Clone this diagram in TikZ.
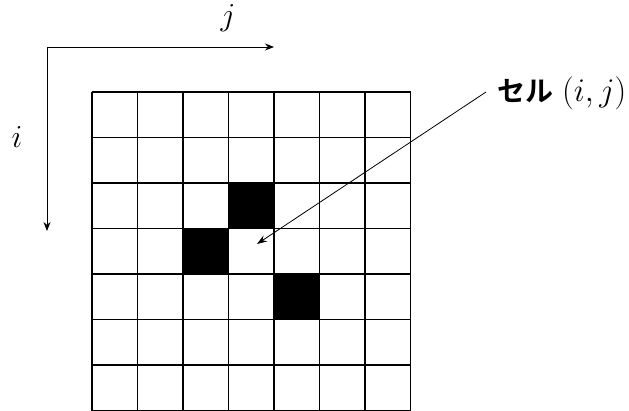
\RequirePackage{fix-cm}
\documentclass[tikz,border=0pt]{standalone}
\usepackage{fontspec}
\newfontfamily\cjk{Noto Sans CJK JP}[BoldFont={* Bold}]
\usetikzlibrary{arrows.meta}
\tikzset{
  gridline/.style={line width=1.8pt,black},
  axis/.style={line width=0.8pt,-{Stealth[length=9pt,width=7pt]}},
  pointer/.style={line width=0.8pt,-{Stealth[length=10pt,width=7pt]}},
  mathlbl/.style={font=\fontsize{32}{38}\selectfont,inner sep=0pt,anchor=base}
}
\begin{document}
\begin{tikzpicture}[x=1pt,y=-1pt]
\useasboundingbox (0,0) rectangle (629,411);
\def\c{45.5}
% black cells
\fill (92+3*\c,92+2*\c) rectangle ++(\c,\c);
\fill (92+2*\c,92+3*\c) rectangle ++(\c,\c);
\fill (92+4*\c,92+4*\c) rectangle ++(\c,\c);
% grid
\foreach \k in {0,...,7}{
  \draw[gridline] (92+\k*\c,92) -- (92+\k*\c,92+7*\c);
  \draw[gridline] (92,92+\k*\c) -- (92+7*\c,92+\k*\c);
}
% axes
\coordinate (o) at (47,47);
\coordinate (jend) at (274,47);
\coordinate (iend) at (47,231);
\draw[axis] (o) -- (jend);
\draw[axis] (o) -- (iend);
\node[mathlbl] (jl) at (228,26) {$j$};
\node[mathlbl] (il) at (17,148) {$i$};
% label
\node[anchor=base west,inner sep=0pt] (lbl) at (497,102)
  {{\cjk\bfseries\fontsize{28}{32}\selectfont セル}\hspace{9pt}{\fontsize{33}{40}\selectfont$(i,j)$}};
\coordinate (ps) at (486,92);
\coordinate (pt) at (257,244);
\draw[pointer] (ps) -- (pt);
\end{tikzpicture}
\end{document}
